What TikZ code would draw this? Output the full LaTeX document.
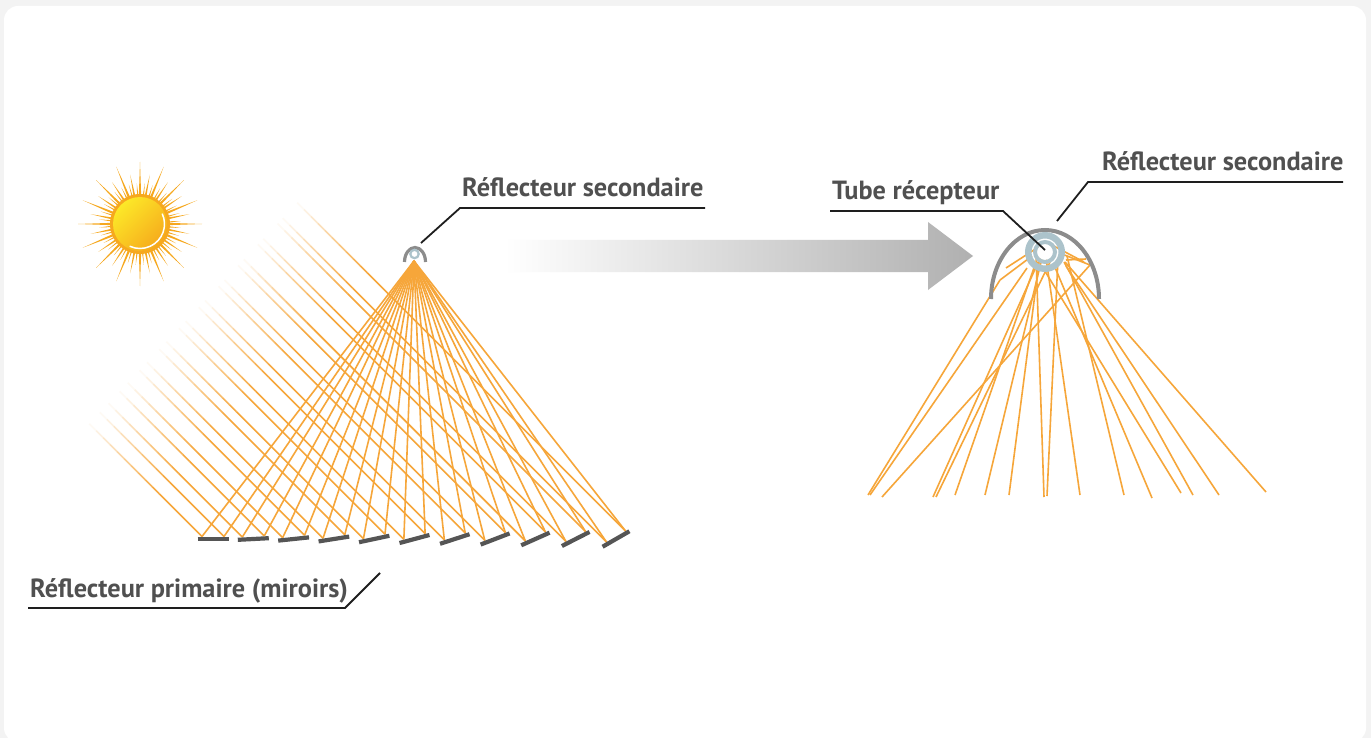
\documentclass[tikz,border=0pt]{standalone}
\usepackage{fontspec}
\setmainfont{PT Sans}
\usetikzlibrary{calc}
\definecolor{ray}{RGB}{246,166,58}
\definecolor{mirrorgray}{RGB}{85,85,85}
\definecolor{reflgray}{RGB}{140,140,140}
\definecolor{tubeblue}{RGB}{172,195,203}
\definecolor{labeltext}{RGB}{80,80,80}
\definecolor{leader}{RGB}{30,30,30}
\definecolor{arrowgray}{RGB}{176,176,176}
\definecolor{sunrim}{RGB}{246,168,30}
\definecolor{sunlight}{RGB}{252,232,40}
\definecolor{sundark}{RGB}{246,170,28}
\definecolor{pagebg}{RGB}{243,243,243}

\begin{document}
\begin{tikzpicture}[x=1pt,y=-1pt,
  beam/.style={draw=ray, line width=1.6pt},
  leaderline/.style={draw=leader, line width=1.8pt},
  mirrorline/.style={draw=mirrorgray, line width=4.2pt},
  caption/.style={font=\fontsize{26.3}{31}\selectfont\bfseries, text=labeltext, inner sep=0pt, anchor=base west},
]
\useasboundingbox (0,0) rectangle (1371,738);
\fill[pagebg] (0,0) rectangle (1371,738);
\fill[white, rounded corners=14pt] (4,6) rectangle (1366,742);

% ---------- sun ----------
\begin{scope}[shift={(140,224)}]
  \foreach \a in {0,22.5,...,337.5}
    \fill[sunrim] ({\a-2.4}:28) -- (\a:62) -- ({\a+2.4}:28) -- cycle;
  \foreach \a in {11.25,33.75,...,350}
    \fill[sunrim] ({\a-2}:28) -- (\a:50) -- ({\a+2}:28) -- cycle;
  \foreach \a in {5.6,16.9,...,360}
    \fill[sunrim] ({\a-1.4}:28) -- (\a:41) -- ({\a+1.4}:28) -- cycle;
  \fill[sunrim] (0,0) circle (30);
  \shade[top color=sunlight, bottom color=sundark, shading angle=45] (0,0) circle (27);
  \draw[white, line width=1.5pt] (-25:24.5) arc (-25:115:24.5);
\end{scope}

% ---------- left: incoming and reflected rays ----------
\coordinate (focus) at (414,261);
\foreach \k in {0,...,10}{
  \foreach \s in {-11,11}{
    \pgfmathsetmacro\hx{213+40.3*\k+\s*cos(3*\k)}
    \pgfmathsetmacro\hy{536.5-\s*sin(3*\k)}
    \pgfmathsetmacro\t{(\hx+0.941*\hy-488)/1.941}
    \pgfmathsetmacro\sx{\hx-\t}
    \pgfmathsetmacro\sy{\hy-\t}
    \foreach \i in {0,...,9}{
      \pgfmathsetmacro\op{(\i+0.5)/10}
      \draw[beam, draw opacity=\op] (\sx+7*\i,\sy+7*\i) -- (\sx+7*\i+7,\sy+7*\i+7);
    }
    \draw[beam] (\sx+70,\sy+70) -- (\hx,\hy);
    \draw[beam] (\hx,\hy) -- (focus);
  }
}

% ---------- primary mirrors ----------
\foreach \k in {0,...,10}{
  \pgfmathsetmacro\cx{213+40.3*\k}
  \pgfmathsetmacro\ux{15.5*cos(3*\k)}
  \pgfmathsetmacro\uy{-15.5*sin(3*\k)}
  \pgfmathsetmacro\nx{-0.8*sin(3*\k)}
  \pgfmathsetmacro\ny{-0.8*cos(3*\k)}
  \draw[mirrorline] (\cx-\ux,539-\uy) .. controls (\cx+\nx,539+\ny) .. (\cx+\ux,539+\uy);
}

% ---------- small secondary reflector ----------
\draw[reflgray, line width=3.2pt] (404.5,262) arc (180:360:10.5 and 14.5);
\draw[tubeblue, fill=white, line width=2.2pt] (414.5,254) circle (4.2);

% ---------- arrow ----------
\shade[left color=white, right color=arrowgray]
  (505,240) -- (928,240) -- (928,222) -- (973,256) -- (928,290) -- (928,272) -- (505,272) -- cycle;

% ---------- right: receiver detail ----------
\coordinate (tube) at (1045,252);
\foreach \ax/\ay/\bx/\by in {
  868/495/1000/280, 870/495/1027/268, 882/497/1090/265,
  933/497/1040/258, 936/497/1050/262, 955/495/1036/262,
  985/495/1042/258, 1009/495/1040/255, 1044/497/1036/255,
  1047/496/1058/258, 1080/495/1046/258, 1124/495/1067/256,
  1152/498/1054/265, 1181/493/1043/268, 1193/495/1064/262,
  1219/495/1066/266, 1266/492/1065/262}
  \draw[beam] (\ax,\ay) -- (\bx,\by);
% rays sent back from the inner walls
\foreach \ax/\ay/\bx/\by in {
  1000/280/1032/256, 1090/265/1062/254, 1086/259/1066/260,
  1084/262/1050/244, 1006/268/1040/246}
  \draw[beam] (\ax,\ay) -- (\bx,\by);

\draw[reflgray, line width=4pt] (991,299) arc (180:360:54 and 69);
\fill[white] (tube) circle (8);
\draw[tubeblue, line width=4pt] (tube) circle (10);
\draw[tubeblue, line width=6.5pt] (tube) circle (16.75);

% ---------- labels ----------
\node[caption] (lblsecL) at (462,197) {Réflecteur secondaire};
\coordinate (secLa) at (705,208);
\coordinate (secLb) at (460,208);
\coordinate (secLc) at (421,243);
\draw[leaderline] (secLa) -- (secLb) -- (secLc);

\node[caption] (lbltube) at (832,200) {Tube récepteur};
\coordinate (tubea) at (830,211);
\coordinate (tubeb) at (1003,211);
\draw[leaderline] (tubea) -- (tubeb) -- (1045,250);

\node[caption] (lblsecR) at (1102,171) {Réflecteur secondaire};
\coordinate (secRa) at (1343,182);
\coordinate (secRb) at (1088,182);
\coordinate (secRc) at (1057,221);
\draw[leaderline] (secRa) -- (secRb) -- (secRc);

\node[caption] (lblprim) at (30,597) {Réflecteur primaire (miroirs)};
\coordinate (prima) at (28,608);
\coordinate (primb) at (345,608);
\coordinate (primc) at (380,573);
\draw[leaderline] (prima) -- (primb) -- (primc);
\end{tikzpicture}
\end{document}
